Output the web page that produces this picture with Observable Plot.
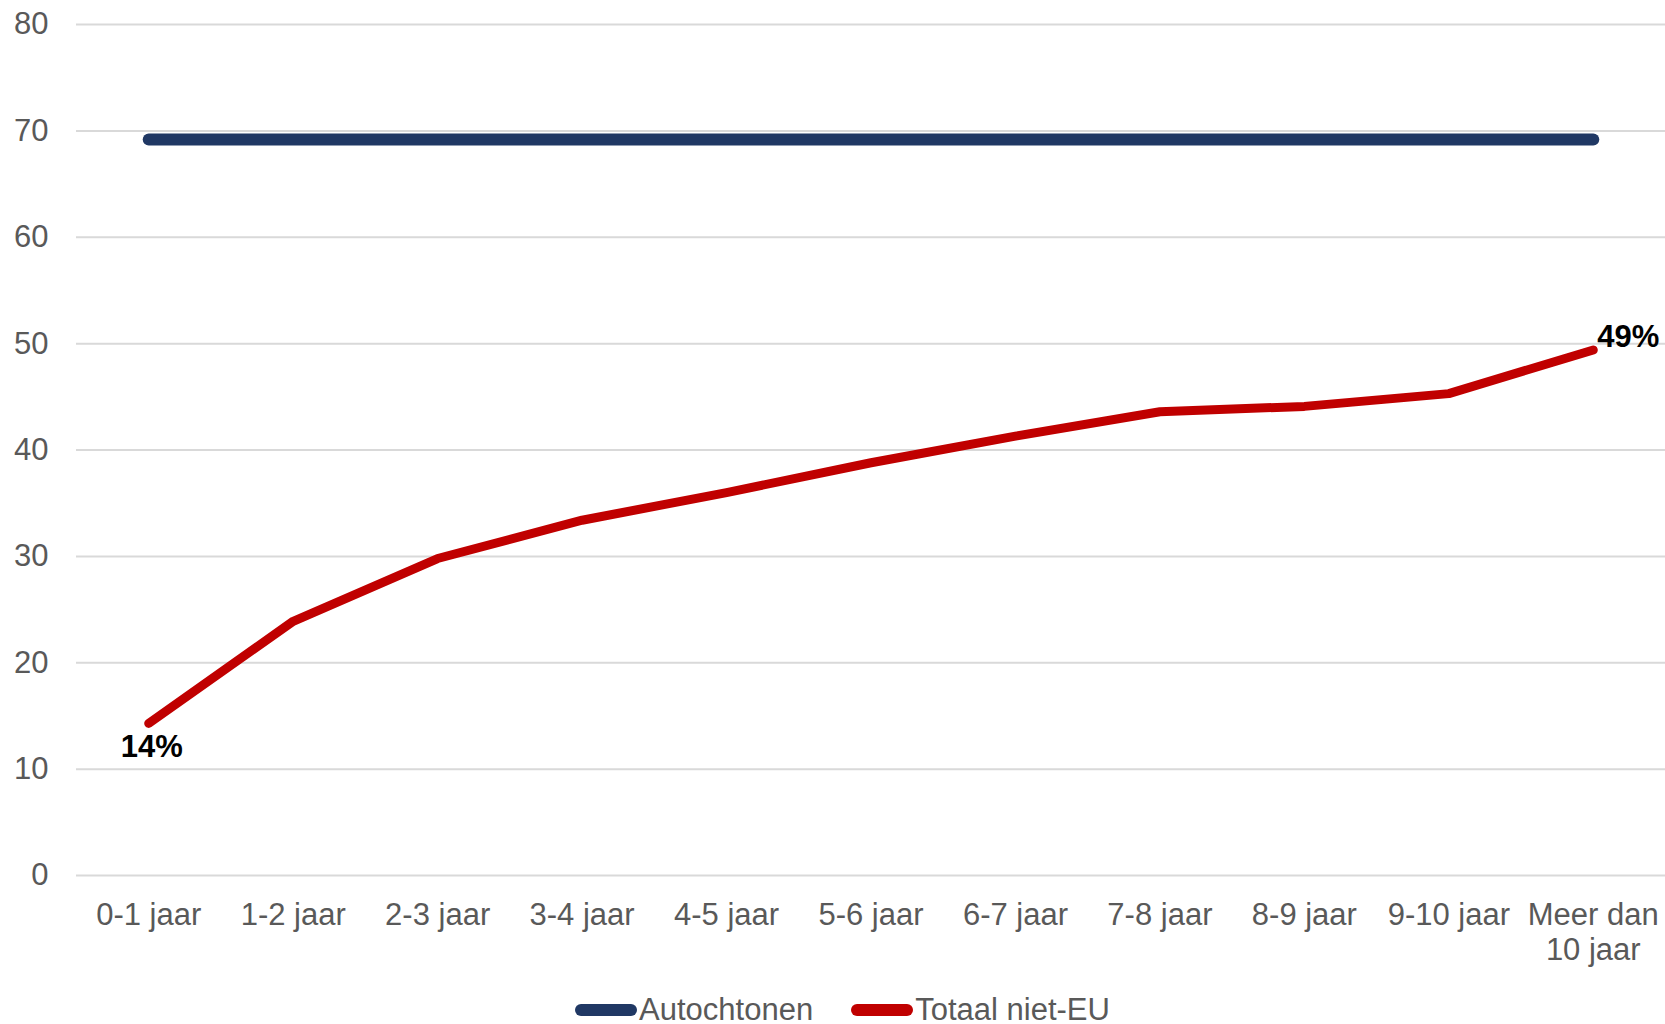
<!DOCTYPE html>
<html><head><meta charset="utf-8">
<script src="https://cdn.jsdelivr.net/npm/d3@7"></script>
<script src="https://cdn.jsdelivr.net/npm/@observablehq/plot@0.6"></script>
<style>
html,body{margin:0;padding:0;background:#fff;overflow:hidden;font-family:"Liberation Sans",Arial,sans-serif;}
#legend{display:flex;justify-content:center;align-items:center;gap:38px;font-size:31px;color:#595959;margin-left:20px;height:32px;line-height:32px;padding-top:2px;}
.item{display:flex;align-items:center;}
.item svg{display:block;margin-right:2px;}
</style></head><body><div id="chart"></div><div id="legend"></div>
<script>
const categories = ["0-1 jaar","1-2 jaar","2-3 jaar","3-4 jaar","4-5 jaar","5-6 jaar","6-7 jaar","7-8 jaar","8-9 jaar","9-10 jaar","Meer dan\n10 jaar"];
const autochtonen = [69.2,69.2,69.2,69.2,69.2,69.2,69.2,69.2,69.2,69.2,69.2];
const totaalNietEU = [14.3,23.9,29.8,33.4,36.0,38.8,41.3,43.6,44.1,45.3,49.4];
const yTicks = [0,10,20,30,40,50,60,70,80];
const seriesNames = ["Autochtonen","Totaal niet-EU"];
const seriesColors = ["#203864","#C00000"];

const autoRows = categories.map((c,i)=>({cat:c, value:autochtonen[i], series:seriesNames[0]}));
const redRows = categories.map((c,i)=>({cat:c, value:totaalNietEU[i], series:seriesNames[1]}));
const fmt = v => d3.format(".0f")(v) + "%";
const firstLabel = [redRows[0]];
const lastLabel = [redRows[redRows.length-1]];

const chart = Plot.plot({
  width: 1665,
  height: 992,
  marginLeft: 76,
  marginRight: 0,
  marginTop: 24,
  marginBottom: 117,
  style: {fontSize: "31px", fontFamily: "'Liberation Sans', Arial, sans-serif", color: "#595959", background: "#fff"},
  x: {type: "point", domain: categories, padding: 0.5, round: false},
  y: {domain: [0, 80]},
  marks: [
    Plot.gridY(yTicks, {stroke: "#D9D9D9", strokeOpacity: 1, strokeWidth: 2}),
    Plot.axisY(yTicks, {tickSize: 0, tickPadding: 28, label: null}),
    Plot.axisX({tickSize: 0, tickPadding: 25, label: null, lineHeight: 1.13}),
    Plot.lineY(autoRows, {x: "cat", y: "value", stroke: seriesColors[0], strokeWidth: 12, strokeLinecap: "round", strokeLinejoin: "round"}),
    Plot.lineY(redRows, {x: "cat", y: "value", stroke: seriesColors[1], strokeWidth: 9, strokeLinecap: "round", strokeLinejoin: "round"}),
    Plot.text(firstLabel, {x: "cat", y: "value", text: d => fmt(d.value), dx: 3, dy: 24, fontWeight: "bold", fill: "#000", fontSize: 31}),
    Plot.text(lastLabel, {x: "cat", y: "value", text: d => fmt(d.value), dx: 4, dy: -13, textAnchor: "start", fontWeight: "bold", fill: "#000", fontSize: 31})
  ]
});
document.getElementById("chart").appendChild(chart);

const legend = document.getElementById("legend");
seriesNames.forEach((name, i) => {
  const item = document.createElement("div");
  item.className = "item";
  item.innerHTML = `<svg width="62" height="14"><line x1="6" y1="7" x2="56" y2="7" stroke="${seriesColors[i]}" stroke-width="12" stroke-linecap="round"/></svg><span>${name}</span>`;
  legend.appendChild(item);
});
</script>
</body></html>
